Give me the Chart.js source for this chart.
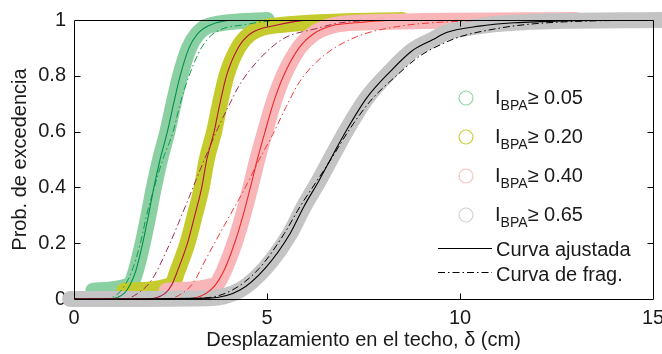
<!DOCTYPE html>
<html>
<head>
<meta charset="utf-8">
<script src="https://cdn.jsdelivr.net/npm/chart.js@4.4.1/dist/chart.umd.min.js"></script>
<style>
  html, body { margin: 0; padding: 0; background: #fff; }
</style>
</head>
<body>
<canvas id="fragChart" width="662" height="354"></canvas>
<script>
// Curvas por nivel de daño (I_BPA >= umbral)
const umbrales = ['0.05', '0.20', '0.40', '0.65'];

// Curva ajustada (línea continua), x en cm
const verdeAjusX = [0, 0.9, 1.3, 1.45, 1.6, 1.78, 1.93, 2.07, 2.23, 2.42, 2.58, 2.75, 2.98, 3.2, 3.5, 4.2, 15];
const verdeAjusY = [0, 0, 0.02, 0.05, 0.1, 0.2, 0.3, 0.4, 0.5, 0.6, 0.7, 0.8, 0.9, 0.95, 0.98, 1, 1];
const amarAjusX = [0, 1.9, 2.36, 2.53, 2.68, 2.94, 3.13, 3.31, 3.44, 3.63, 3.78, 3.95, 4.25, 4.56, 5.2, 6.2, 15];
const amarAjusY = [0, 0, 0.02, 0.05, 0.1, 0.2, 0.3, 0.4, 0.5, 0.6, 0.7, 0.8, 0.9, 0.95, 0.98, 1, 1];
const rosaAjusX = [0, 2.9, 3.42, 3.66, 3.88, 4.16, 4.38, 4.57, 4.75, 4.95, 5.16, 5.43, 5.83, 6.2, 6.7, 7.3, 8.5, 15];
const rosaAjusY = [0, 0, 0.02, 0.05, 0.1, 0.2, 0.3, 0.4, 0.5, 0.6, 0.7, 0.8, 0.9, 0.95, 0.98, 0.99, 1, 1];
const grisAjusX = [0, 3.5, 4.3, 4.95, 5.6, 5.95, 6.35, 6.72, 7.06, 7.58, 8.19, 8.76, 9.3, 9.65, 10.5, 11.4, 12.7, 15];
const grisAjusY = [0, 0.003, 0.032, 0.11, 0.235, 0.33, 0.425, 0.52, 0.605, 0.72, 0.815, 0.89, 0.93, 0.955, 0.978, 0.99, 0.997, 1];

// Curva de fragilidad (línea de trazo y punto)
const verdeFragX = [0, 0.8, 1.15, 1.32, 1.5, 1.72, 1.88, 2.08, 2.3, 2.57, 2.75, 2.98, 3.3, 3.6, 4.5, 5.5, 15];
const verdeFragY = [0, 0, 0.02, 0.05, 0.1, 0.2, 0.3, 0.4, 0.5, 0.6, 0.7, 0.8, 0.9, 0.95, 0.985, 1, 1];
const amarFragX = [0, 1.3, 1.65, 2.01, 2.44, 2.95, 3.2, 3.47, 3.72, 4.0, 4.3, 4.77, 5.41, 6.3, 6.9, 8.5, 15];
const amarFragY = [0, 0, 0.02, 0.068, 0.186, 0.354, 0.44, 0.53, 0.61, 0.69, 0.77, 0.855, 0.932, 0.97, 0.99, 1, 1];
const rosaFragX = [0, 2.4, 2.8, 3.1, 3.35, 3.6, 4.0, 4.4, 4.8, 5.15, 5.5, 5.85, 6.45, 7.32, 8.45, 9.5, 11.5, 15];
const rosaFragY = [0, 0, 0.02, 0.06, 0.125, 0.19, 0.29, 0.39, 0.5, 0.59, 0.69, 0.78, 0.87, 0.94, 0.978, 0.992, 1, 1];
const grisFragX = [0, 3.3, 4.1, 4.8, 5.45, 5.85, 6.3, 6.7, 7.1, 7.68, 8.35, 8.95, 9.55, 10.0, 10.9, 11.8, 13.0, 15];
const grisFragY = [0, 0.003, 0.032, 0.11, 0.235, 0.33, 0.425, 0.51, 0.6, 0.71, 0.8, 0.87, 0.915, 0.94, 0.968, 0.985, 0.995, 1];

// Extensión de la nube de puntos simulados de cada nivel
const nubeInicioX = [0.5, 1.3, 2.4, -0.1];
const nubeInicioY = [0.03, 0.03, 0.03, 0];
const nubeFinX = [5.0, 8.5, 13.0, 15.2];

const xTicks = ['0', '5', '10', '15'];
const yTicks = ['0', '0.2', '0.4', '0.6', '0.8', '1'];

const colNube = ['#8bd0a2', '#c6cb2d', '#f8b6b8', '#c4c4c4'];
const colLeyenda = ['#8fd8a6', '#cdd03c', '#f9c2c4', '#d2d2d2'];
const colAjus = ['#00904a', '#b3143c', '#f02828', '#000000'];
const colFrag = ['#109a55', '#9e2a55', '#f03a3a', '#000000'];

const ajusX = [verdeAjusX, amarAjusX, rosaAjusX, grisAjusX];
const ajusY = [verdeAjusY, amarAjusY, rosaAjusY, grisAjusY];
const fragX = [verdeFragX, amarFragX, rosaFragX, grisFragX];
const fragY = [verdeFragY, amarFragY, rosaFragY, grisFragY];

const FUENTE = '"Liberation Sans", Arial, sans-serif';
const guion = [7, 3, 1.5, 3];

function puntos(xs, ys) {
  return xs.map((x, i) => ({ x: x, y: ys[i] }));
}

// franja de puntos: sigue la curva ajustada entre el inicio y el final de la nube
function nube(i) {
  const pts = [{ x: nubeInicioX[i], y: nubeInicioY[i] }];
  ajusX[i].forEach((x, k) => {
    const y = ajusY[i][k];
    if (y > nubeInicioY[i] && y < 1 && x > nubeInicioX[i]) pts.push({ x: x, y: y });
  });
  pts.push({ x: nubeFinX[i], y: 1 });
  return pts;
}

const datasets = [];
umbrales.forEach((u, i) => {
  datasets.push({
    label: 'IBPA ≥ ' + u,
    data: nube(i),
    borderColor: colNube[i],
    borderWidth: 16,
    borderCapStyle: 'round',
    borderJoinStyle: 'round',
    pointRadius: 0,
    cubicInterpolationMode: 'monotone',
    clip: false,
    order: 40 - i * 10
  });
});
umbrales.forEach((u, i) => {
  datasets.push({
    label: 'Curva de frag. ' + u,
    data: puntos(fragX[i], fragY[i]),
    borderColor: colFrag[i],
    borderWidth: 1,
    borderDash: guion,
    pointRadius: 0,
    cubicInterpolationMode: 'monotone',
    order: 1
  });
  datasets.push({
    label: 'Curva ajustada ' + u,
    data: puntos(ajusX[i], ajusY[i]),
    borderColor: colAjus[i],
    borderWidth: 1.1,
    pointRadius: 0,
    cubicInterpolationMode: 'monotone',
    order: -1 - i
  });
});

// marco con marcas hacia dentro, estilo MATLAB
const marco = {
  id: 'marco',
  afterDatasetsDraw(chart) {
    const { ctx, chartArea: a, scales } = chart;
    ctx.save();
    ctx.strokeStyle = '#000';
    ctx.lineWidth = 1;
    const L = Math.round(a.left) + 0.5, R = Math.round(a.right) + 0.5;
    const T = Math.round(a.top) + 0.5, B = Math.round(a.bottom) + 0.5;
    ctx.beginPath();
    ctx.rect(L, T, R - L, B - T);
    [5, 10].forEach(v => {
      const px = Math.round(scales.x.getPixelForValue(v)) + 0.5;
      ctx.moveTo(px, B); ctx.lineTo(px, B - 6);
      ctx.moveTo(px, T); ctx.lineTo(px, T + 6);
    });
    [0.2, 0.4, 0.6, 0.8].forEach(v => {
      const py = Math.round(scales.y.getPixelForValue(v)) + 0.5;
      ctx.moveTo(L, py); ctx.lineTo(L + 6, py);
      ctx.moveTo(R, py); ctx.lineTo(R - 6, py);
    });
    ctx.stroke();
    ctx.restore();
  }
};

// leyenda dentro del área con subíndice
const leyenda = {
  id: 'leyenda',
  afterDraw(chart) {
    const ctx = chart.ctx;
    ctx.save();
    ctx.fillStyle = '#1a1a1a';
    ctx.textBaseline = 'alphabetic';
    umbrales.forEach((u, i) => {
      const cy = 98 + i * 39;
      ctx.beginPath();
      ctx.arc(466, cy, 7, 0, Math.PI * 2);
      ctx.strokeStyle = colLeyenda[i];
      ctx.lineWidth = 1.2;
      ctx.stroke();
      let x = 495;
      ctx.font = '20px ' + FUENTE;
      ctx.fillText('I', x, cy + 6);
      x += ctx.measureText('I').width;
      ctx.font = '14px ' + FUENTE;
      ctx.fillText('BPA', x, cy + 12);
      x += ctx.measureText('BPA').width;
      ctx.font = '20px ' + FUENTE;
      ctx.fillText('≥ ' + u, x, cy + 6);
    });
    ctx.strokeStyle = '#000';
    ctx.lineWidth = 1;
    ctx.beginPath();
    ctx.moveTo(438, 248.5); ctx.lineTo(492, 248.5);
    ctx.stroke();
    ctx.setLineDash(guion);
    ctx.beginPath();
    ctx.moveTo(438, 272.5); ctx.lineTo(492, 272.5);
    ctx.stroke();
    ctx.setLineDash([]);
    ctx.font = '20px ' + FUENTE;
    ctx.textBaseline = 'middle';
    ctx.fillText('Curva ajustada', 496, 250);
    ctx.fillText('Curva de frag.', 496, 275);
    ctx.restore();
  }
};

new Chart(document.getElementById('fragChart'), {
  type: 'line',
  data: { datasets: datasets },
  options: {
    responsive: false,
    devicePixelRatio: 1,
    animation: false,
    events: [],
    layout: { padding: { top: 19, right: 9, left: 0, bottom: 0 } },
    plugins: { legend: { display: false }, tooltip: { enabled: false } },
    scales: {
      x: {
        type: 'linear', min: 0, max: 15,
        grid: { display: false, drawTicks: false },
        border: { display: false },
        ticks: {
          stepSize: 5, padding: 7, color: '#1a1a1a', maxRotation: 0,
          font: { family: FUENTE, size: 20 },
          callback: (v) => xTicks[Math.round(v / 5)]
        },
        title: {
          display: true, text: 'Desplazamiento en el techo, δ (cm)', color: '#1a1a1a',
          font: { family: FUENTE, size: 20 }, padding: { top: 0, bottom: 2 }
        },
        afterFit: (s) => { s.height = 55; s.paddingLeft = 0; s.paddingRight = 0; }
      },
      y: {
        min: 0, max: 1,
        grid: { display: false, drawTicks: false },
        border: { display: false },
        ticks: {
          stepSize: 0.2, padding: 8, color: '#1a1a1a',
          font: { family: FUENTE, size: 20 },
          callback: (v) => yTicks[Math.round(v / 0.2)]
        },
        title: {
          display: true, text: 'Prob. de excedencia', color: '#1a1a1a',
          font: { family: FUENTE, size: 20 }, padding: { top: 8, bottom: 0 }
        },
        afterFit: (s) => { s.width = 74; }
      }
    }
  },
  plugins: [marco, leyenda]
});
</script>
</body>
</html>
